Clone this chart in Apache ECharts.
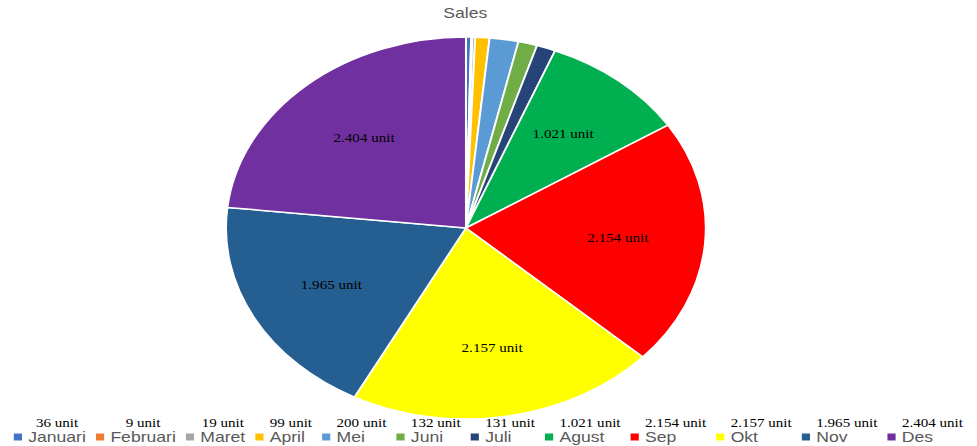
<!DOCTYPE html>
<html>
<head>
<meta charset="utf-8">
<script src="https://cdn.jsdelivr.net/npm/echarts@6/dist/echarts.min.js"></script>
<style>
  html, body { margin: 0; padding: 0; background: #fff; overflow: hidden; }
  #wrap { width: 977px; height: 446px; overflow: hidden; }
  /* the chart is laid out narrower and stretched horizontally into an ellipse */
  #chart { width: 778px; height: 446px; transform: scaleX(1.25578); transform-origin: 0 0; }
</style>
</head>
<body>
<div id="wrap"><div id="chart"></div></div>
<script>
const months = ['Januari', 'Februari', 'Maret', 'April', 'Mei', 'Juni', 'Juli', 'Agust', 'Sep', 'Okt', 'Nov', 'Des'];
const sales = [36, 9, 19, 99, 200, 132, 131, 1021, 2154, 2157, 1965, 2404];
const sliceColors = ['#4472C4', '#ED7D31', '#A5A5A5', '#FFC000', '#5B9BD5', '#70AD47',
                     '#264478', '#00B050', '#FF0000', '#FFFF00', '#255E91', '#7030A0'];
const unitText = 'unit';
const insideLabelMin = 500;

// Indonesian thousands separator: 2404 -> "2.404"
function fmt(v) {
  return String(v).replace(/\B(?=(\d{3})+(?!\d))/g, '.') + ' ' + unitText;
}

const salesByName = {};
months.forEach((m, i) => { salesByName[m] = sales[i]; });

const pieData = months.map((m, i) => ({ name: m, value: sales[i], itemStyle: { color: sliceColors[i] } }));
const labelData = months.map((m, i) => ({ name: m, value: sales[i] }));

const serif = "'Liberation Serif', 'DejaVu Serif', serif";
const sans = "'Liberation Sans', Arial, sans-serif";
const pieCenter = [371, 228];
const pieRadius = 191;

const chart = echarts.init(document.getElementById('chart'), null, { renderer: 'svg' });
chart.setOption({
  animation: false,
  title: {
    text: 'Sales',
    left: 353,
    top: 6,
    padding: 0,
    textStyle: { fontFamily: sans, fontSize: 14, fontWeight: 'normal', color: '#595959' }
  },
  legend: {
    data: months,
    left: 11,
    top: 417,
    width: 800,
    padding: 0,
    itemGap: 8,
    itemWidth: 6.5,
    itemHeight: 7,
    icon: 'rect',
    itemStyle: { borderWidth: 0 },
    selectedMode: false,
    formatter: name => '{v|' + fmt(salesByName[name]) + '}\n{n|' + name + '}\n{e| }',
    textStyle: {
      rich: {
        v: { fontFamily: serif, fontSize: 12, color: '#000', lineHeight: 14, align: 'center' },
        n: { fontFamily: sans, fontSize: 14, color: '#595959', lineHeight: 14, align: 'left' },
        e: { fontSize: 12, lineHeight: 14 }
      }
    }
  },
  series: [
    {
      name: 'Sales',
      type: 'pie',
      center: pieCenter,
      radius: pieRadius,
      startAngle: 90,
      clockwise: true,
      avoidLabelOverlap: false,
      label: { show: false },
      labelLine: { show: false },
      emphasis: { disabled: true },
      itemStyle: { borderColor: '#fff', borderWidth: 1.5 },
      data: pieData
    },
    {
      // transparent ring that only carries the value labels further out from the centre
      name: 'Sales labels',
      type: 'pie',
      center: pieCenter,
      radius: pieRadius * 1.24,
      startAngle: 90,
      clockwise: true,
      silent: true,
      legendHoverLink: false,
      avoidLabelOverlap: false,
      emphasis: { disabled: true },
      itemStyle: { color: 'rgba(0,0,0,0)', borderWidth: 0 },
      label: {
        show: true,
        position: 'inside',
        fontFamily: serif,
        fontSize: 12,
        color: '#000',
        formatter: p => (p.value >= insideLabelMin ? fmt(p.value) : '')
      },
      labelLine: { show: false },
      data: labelData
    }
  ]
});
</script>
</body>
</html>
